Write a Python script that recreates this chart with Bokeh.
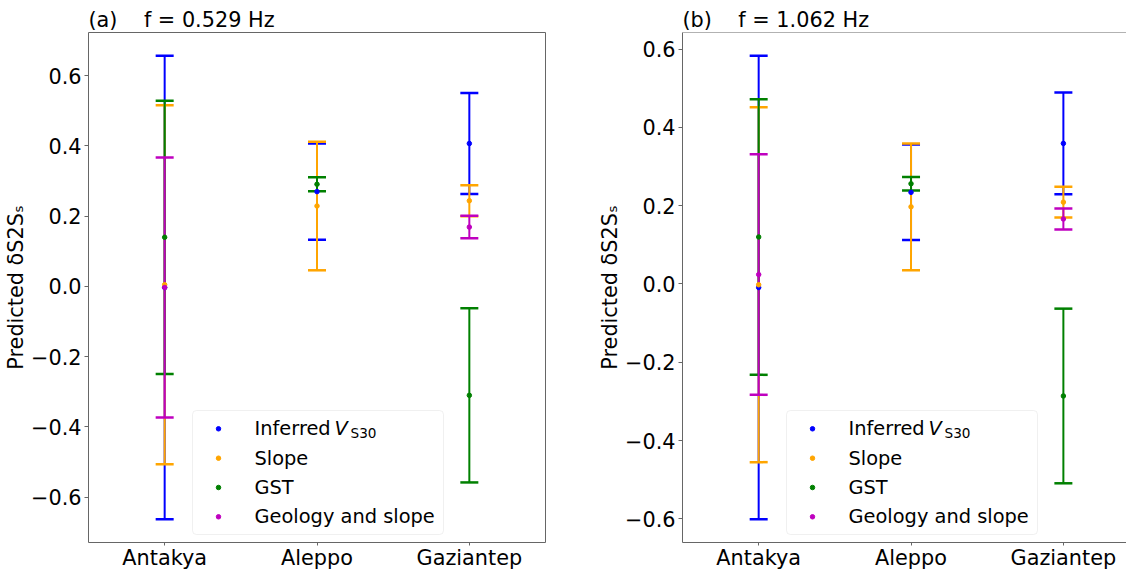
from bokeh.plotting import figure
from bokeh.models import (ColumnDataSource, Whisker, TeeHead, FixedTicker, Range1d,
                          BoxAnnotation, Label, Span)
from bokeh.layouts import row
from bokeh.embed import file_html
from bokeh.resources import INLINE
import numpy as np

# ---- data -------------------------------------------------------------
cities = ["Antakya", "Aleppo", "Gaziantep"]
models = ["Inferred V_S30", "Slope", "GST", "Geology and slope"]
colors = ["#0000ff", "#ffa500", "#008000", "#bf00bf"]

y_ticks = [-0.6, -0.4, -0.2, 0.0, 0.2, 0.4, 0.6]
y_tick_labels = ["\u22120.6", "\u22120.4", "\u22120.2", "0.0", "0.2", "0.4", "0.6"]

# f = 0.529 Hz : predicted mean and half-width of the error bar per city
a_vs30_mean = [-0.003, 0.270, 0.407]
a_vs30_err = [0.660, 0.137, 0.144]
a_slope_mean = [0.005, 0.229, 0.244]
a_slope_err = [0.511, 0.183, 0.044]
a_gst_mean = [0.140, 0.291, -0.310]
a_gst_err = [0.389, 0.020, 0.248]
a_geo_mean = [-0.003, np.nan, 0.169]
a_geo_err = [0.370, np.nan, 0.032]

# f = 1.062 Hz
b_vs30_mean = [-0.009, 0.234, 0.359]
b_vs30_err = [0.592, 0.122, 0.130]
b_slope_mean = [-0.002, 0.197, 0.209]
b_slope_err = [0.453, 0.162, 0.039]
b_gst_mean = [0.120, 0.256, -0.286]
b_gst_err = [0.352, 0.017, 0.223]
b_geo_mean = [0.024, np.nan, 0.166]
b_geo_err = [0.307, np.nan, 0.027]

FONT = "DejaVu Sans"
TICK_FS = "20.8px"
LEG_FS = "19.4px"
SPINE = "#666666"

FRAME_H = 510


def panel(title, means, errs, frame_w, x_end, border_left, border_right, full_outline):
    lo = min(np.nanmin(np.array(m) - np.array(e)) for m, e in zip(means, errs))
    hi = max(np.nanmax(np.array(m) + np.array(e)) for m, e in zip(means, errs))
    pad = 0.05 * (hi - lo)

    p = figure(frame_width=frame_w, frame_height=FRAME_H,
               x_range=Range1d(-0.5, x_end), y_range=Range1d(lo - pad, hi + pad),
               output_backend="svg", toolbar_location=None,
               min_border_left=border_left, min_border_right=border_right,
               min_border_top=32, min_border_bottom=20,
               background_fill_color="white", border_fill_color="white")
    p.grid.visible = False

    p.title.text = title
    p.title.text_font = FONT
    p.title.text_font_size = TICK_FS
    p.title.text_font_style = "normal"
    p.title.text_color = "black"
    p.title.align = "left"
    p.title.offset = 0
    p.title.standoff = 2

    for ax in (p.xaxis[0], p.yaxis[0]):
        ax.major_label_text_font = FONT
        ax.major_label_text_font_size = TICK_FS
        ax.major_label_text_color = "black"
        ax.major_tick_in = 0
        ax.minor_tick_line_color = None
        ax.major_tick_line_color = SPINE

    p.xaxis.major_tick_out = 3
    p.xaxis.major_label_standoff = 0
    p.yaxis.major_tick_out = 4
    p.yaxis.major_label_standoff = 3

    p.xaxis.ticker = FixedTicker(ticks=list(range(len(cities))))
    p.xaxis.major_label_overrides = {i: c for i, c in enumerate(cities)}
    p.yaxis.ticker = FixedTicker(ticks=y_ticks)
    p.yaxis.major_label_overrides = dict(zip(y_ticks, y_tick_labels))

    p.yaxis.axis_label = "Predicted \u03b4S2S\u209b"
    p.yaxis.axis_label_text_font = FONT
    p.yaxis.axis_label_text_font_size = TICK_FS
    p.yaxis.axis_label_text_font_style = "normal"
    p.yaxis.axis_label_text_color = "black"
    p.yaxis.axis_label_standoff = 0

    if full_outline:
        p.outline_line_color = SPINE
        p.outline_line_width = 1
        p.axis.axis_line_color = None
    else:
        p.outline_line_color = None
        p.axis.axis_line_color = SPINE
        p.add_layout(Span(location=hi + pad, dimension="width",
                          line_color=SPINE, line_width=1))

    # error bars, drawn in model order
    sources = []
    for m, e, c in zip(means, errs, colors):
        m = np.array(m, dtype=float)
        e = np.array(e, dtype=float)
        ok = ~np.isnan(m)
        x = np.arange(len(cities))[ok]
        src = ColumnDataSource(dict(x=x, y=m[ok], upper=(m + e)[ok], lower=(m - e)[ok]))
        sources.append((src, c))
        w = Whisker(source=src, base="x", upper="upper", lower="lower", dimension="height",
                    line_color=c, line_width=2,
                    upper_head=TeeHead(size=18, line_color=c, line_width=2.5),
                    lower_head=TeeHead(size=18, line_color=c, line_width=2.5))
        p.add_layout(w)
    for src, c in sources:
        p.scatter("x", "y", source=src, size=4.5, color=c)

    # legend, positioned in frame pixels
    p.extra_x_ranges = {"lx": Range1d(0, frame_w)}
    p.extra_y_ranges = {"ly": Range1d(0, FRAME_H)}
    box = BoxAnnotation(left=104, right=355, bottom=8, top=132,
                        x_range_name="lx", y_range_name="ly",
                        fill_color="white", fill_alpha=0.8,
                        line_color="#cccccc", line_width=1, border_radius=4)
    p.add_layout(box)
    rows_y = [113.7, 84.3, 55.0, 25.7]
    leg_src = ColumnDataSource(dict(x=[130] * 4, y=rows_y, c=colors))
    r = p.scatter("x", "y", source=leg_src, size=4.5, color="c",
                  x_range_name="lx", y_range_name="ly")
    r.level = "overlay"
    text_x = 166
    labels = ["Inferred", models[1], models[2], models[3]]
    for t, yy in zip(labels, rows_y):
        p.add_layout(Label(x=text_x, y=yy, text=t, x_range_name="lx", y_range_name="ly",
                           text_font=FONT, text_font_size=LEG_FS, text_baseline="middle",
                           text_color="black"))
    p.add_layout(Label(x=text_x + 80, y=rows_y[0], text="V", x_range_name="lx",
                       y_range_name="ly", text_font=FONT, text_font_size=LEG_FS,
                       text_font_style="italic", text_baseline="middle", text_color="black"))
    p.add_layout(Label(x=text_x + 96, y=rows_y[0] - 4, text="S30", x_range_name="lx",
                       y_range_name="ly", text_font=FONT, text_font_size="13.6px",
                       text_baseline="middle", text_color="black"))
    return p


pa = panel("(a)\u00a0\u00a0\u00a0\u00a0f = 0.529 Hz",
           [a_vs30_mean, a_slope_mean, a_gst_mean, a_geo_mean],
           [a_vs30_err, a_slope_err, a_gst_err, a_geo_err],
           frame_w=457, x_end=2.5, border_left=88, border_right=45, full_outline=True)
pb = panel("(b)\u00a0\u00a0\u00a0\u00a0f = 1.062 Hz",
           [b_vs30_mean, b_slope_mean, b_gst_mean, b_geo_mean],
           [b_vs30_err, b_slope_err, b_gst_err, b_geo_err],
           frame_w=444, x_end=-0.5 + 444 / 152.35, border_left=92, border_right=0,
           full_outline=False)

layout = row(pa, pb)
open("out.html", "w").write(file_html(layout, INLINE))
